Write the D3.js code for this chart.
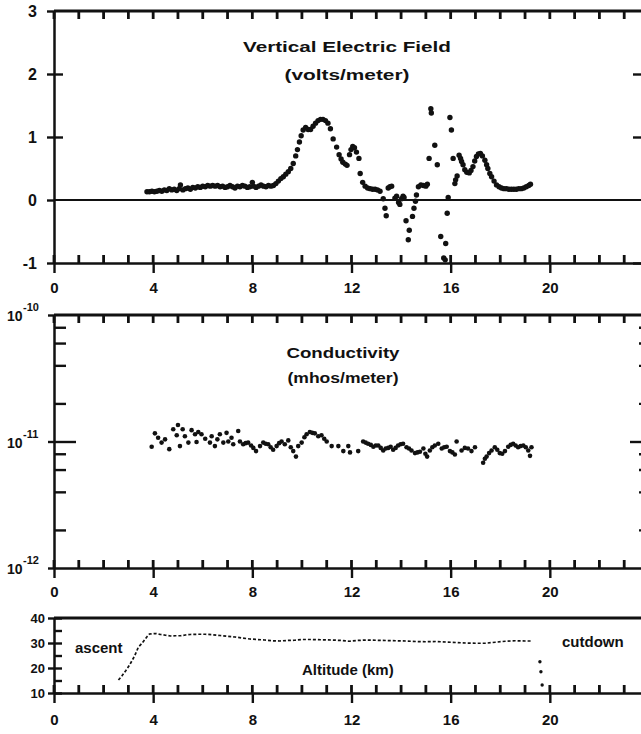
<!DOCTYPE html>
<html>
<head>
<meta charset="utf-8">
<script src="https://cdn.jsdelivr.net/npm/d3@7/dist/d3.min.js"></script>
<style>
  html, body { margin: 0; padding: 0; background: #fff; }
  svg { display: block; }
  text { font-family: "Liberation Sans", Arial, sans-serif; font-weight: bold; }
</style>
</head>
<body>
<div id="chart"></div>
<script>
// Balloon sounding: vertical E field, conductivity and altitude vs time

const xMinorTicks = d3.range(0, 25);
const xLabelsTop = [0, 4, 8, 12, 16, 20];
const xLabelsMid = [0, 4, 8, 12, 16, 20];
const xLabelsBottom = [0, 4, 8, 12, 16, 20, 24];

const fieldTicks = [-1, 0, 1, 2, 3];
const condDecades = [1e-12, 1e-11, 1e-10];
const condMinorTicks = [2e-12, 4e-12, 6e-12, 8e-12, 2e-11, 4e-11, 6e-11, 8e-11];
const altLabelTicks = [10, 20, 30, 40];
const altAllTicks = [10, 15, 20, 25, 30, 35, 40];

// [time, volts/meter]
const fieldPoints = [
  [3.75, 0.13], [3.85, 0.13], [3.95, 0.14], [4.05, 0.13], [4.15, 0.14], [4.25, 0.15], [4.35, 0.14],
  [4.45, 0.16], [4.55, 0.15], [4.65, 0.18], [4.75, 0.16], [4.85, 0.17], [4.95, 0.15], [5.05, 0.18],
  [5.1, 0.24], [5.2, 0.16], [5.3, 0.18], [5.4, 0.19], [5.5, 0.17], [5.6, 0.2], [5.7, 0.19], [5.8, 0.21],
  [5.9, 0.2], [6.0, 0.22], [6.1, 0.21], [6.2, 0.23], [6.3, 0.22], [6.4, 0.23], [6.5, 0.22], [6.6, 0.23],
  [6.7, 0.21], [6.8, 0.22], [6.9, 0.2], [7.0, 0.21], [7.1, 0.23], [7.2, 0.21], [7.3, 0.19], [7.4, 0.22],
  [7.5, 0.21], [7.6, 0.23], [7.7, 0.22], [7.8, 0.2], [7.9, 0.21], [8.0, 0.28], [8.05, 0.22], [8.15, 0.2],
  [8.25, 0.22], [8.35, 0.24], [8.45, 0.22], [8.55, 0.21], [8.65, 0.23], [8.75, 0.22], [8.85, 0.23],
  [8.95, 0.26], [9.05, 0.3], [9.15, 0.34], [9.25, 0.37], [9.35, 0.41], [9.45, 0.45], [9.55, 0.5],
  [9.65, 0.58], [9.75, 0.7], [9.82, 0.8], [9.9, 0.92], [9.97, 1.02], [10.05, 1.11], [10.15, 1.15],
  [10.25, 1.12], [10.35, 1.12], [10.45, 1.17], [10.55, 1.22], [10.65, 1.26], [10.75, 1.28], [10.85, 1.28],
  [10.95, 1.26], [11.05, 1.22], [11.15, 1.13], [11.26, 0.97], [11.4, 0.84], [11.5, 0.72], [11.58, 0.65],
  [11.65, 0.6], [11.75, 0.57], [11.82, 0.55], [11.92, 0.72], [11.98, 0.8], [12.05, 0.85], [12.12, 0.83],
  [12.2, 0.76], [12.3, 0.66], [12.35, 0.42], [12.45, 0.28], [12.55, 0.22], [12.65, 0.19], [12.75, 0.18],
  [12.85, 0.17], [12.95, 0.17], [13.05, 0.16], [13.15, 0.14], [13.28, 0.02], [13.35, -0.13], [13.4, -0.25],
  [13.48, 0.19], [13.55, 0.21], [13.62, 0.22], [13.75, 0.03], [13.82, 0.06], [13.9, -0.04], [13.95, -0.07],
  [14.02, 0.02], [14.08, 0.06], [14.12, 0.04], [14.2, -0.33], [14.29, -0.63], [14.33, -0.48], [14.46, -0.26],
  [14.52, -0.13], [14.58, -0.02], [14.62, 0.08], [14.7, 0.21], [14.8, 0.24], [14.9, 0.23], [15.0, 0.22],
  [15.06, 0.25], [15.13, 0.66], [15.2, 1.45], [15.22, 1.38], [15.36, 0.87], [15.46, 0.56], [15.6, -0.58],
  [15.72, -0.92], [15.78, -0.95], [15.8, -0.69], [15.86, -0.21], [15.9, 0.04], [15.97, 1.31], [16.03, 1.11],
  [16.1, 0.66], [16.17, 0.26], [16.2, 0.32], [16.26, 0.38], [16.34, 0.71], [16.4, 0.66], [16.44, 0.61],
  [16.5, 0.56], [16.57, 0.48], [16.65, 0.44], [16.75, 0.43], [16.82, 0.47], [16.9, 0.53], [16.97, 0.62],
  [17.04, 0.69], [17.12, 0.73], [17.2, 0.74], [17.28, 0.7], [17.38, 0.63], [17.45, 0.56], [17.5, 0.5],
  [17.58, 0.42], [17.65, 0.37], [17.75, 0.3], [17.85, 0.24], [17.95, 0.21], [18.05, 0.19], [18.15, 0.18],
  [18.25, 0.18], [18.35, 0.17], [18.45, 0.17], [18.55, 0.17], [18.65, 0.17], [18.75, 0.18], [18.85, 0.18],
  [18.95, 0.19], [19.05, 0.21], [19.15, 0.23], [19.22, 0.25]
];

// [time, mhos/meter]
const condPoints = [
  [3.94, 9.1e-12], [4.07, 1.16e-11], [4.2, 1.07e-11], [4.34, 9.8e-12], [4.48, 1.04e-11], [4.65, 8.7e-12],
  [4.81, 1.25e-11], [4.95, 1.12e-11], [5.0, 1.35e-11], [5.08, 9.2e-12], [5.19, 1.25e-11], [5.28, 1.1e-11],
  [5.42, 9.8e-12], [5.55, 1.23e-11], [5.69, 1.14e-11], [5.75, 9.9e-12], [5.82, 1.19e-11], [5.95, 1.14e-11],
  [6.1, 1.05e-11], [6.29, 9.8e-12], [6.36, 1.1e-11], [6.49, 9.2e-12], [6.59, 1.04e-11], [6.69, 1.14e-11],
  [6.83, 9.8e-12], [6.96, 1.17e-11], [7.03, 1.0e-11], [7.16, 1.07e-11], [7.23, 9.5e-12], [7.43, 1.21e-11],
  [7.5, 1.0e-11], [7.63, 9.5e-12], [7.73, 9.7e-12], [7.83, 9.8e-12], [7.95, 9.3e-12], [8.04, 8.9e-12],
  [8.15, 8.4e-12], [8.31, 9.2e-12], [8.44, 9.8e-12], [8.54, 9.6e-12], [8.64, 9.5e-12], [8.74, 9.0e-12],
  [8.84, 8.6e-12], [8.98, 9.2e-12], [9.08, 9.7e-12], [9.18, 1.0e-11], [9.31, 9.5e-12], [9.45, 1.02e-11],
  [9.55, 9.0e-12], [9.65, 8.4e-12], [9.76, 7.6e-12], [9.85, 9.2e-12], [9.99, 9.8e-12], [10.1, 1.08e-11],
  [10.19, 1.14e-11], [10.32, 1.19e-11], [10.42, 1.17e-11], [10.52, 1.16e-11], [10.66, 1.1e-11],
  [10.79, 1.12e-11], [10.9, 1.05e-11], [11.0, 1.0e-11], [11.2, 9.2e-12], [11.47, 9.2e-12], [11.67, 8.4e-12],
  [11.87, 9.2e-12], [11.94, 8.2e-12], [12.27, 8.4e-12], [12.47, 1.0e-11], [12.57, 9.8e-12], [12.67, 9.6e-12],
  [12.78, 9.4e-12], [12.88, 9.1e-12], [12.98, 9.3e-12], [13.08, 9.3e-12], [13.18, 8.9e-12], [13.28, 8.5e-12],
  [13.38, 8.8e-12], [13.48, 8.9e-12], [13.58, 9.1e-12], [13.68, 8.6e-12], [13.78, 8.9e-12], [13.88, 9.3e-12],
  [13.98, 9.5e-12], [14.08, 9.6e-12], [14.22, 9.0e-12], [14.32, 8.8e-12], [14.42, 8.5e-12], [14.56, 8.1e-12],
  [14.66, 8.2e-12], [14.76, 8.3e-12], [14.9, 8.8e-12], [14.98, 8.0e-12], [15.05, 7.6e-12], [15.16, 8.5e-12],
  [15.26, 9.0e-12], [15.36, 9.3e-12], [15.5, 9.6e-12], [15.64, 8.8e-12], [15.74, 9.0e-12], [15.84, 9.1e-12],
  [15.97, 8.4e-12], [16.07, 8.2e-12], [16.17, 7.9e-12], [16.24, 1.0e-11], [16.44, 8.5e-12], [16.57, 8.9e-12],
  [16.7, 8.8e-12], [16.84, 8.4e-12], [16.98, 9.0e-12], [17.31, 6.8e-12], [17.38, 7.3e-12], [17.45, 7.6e-12],
  [17.55, 8.1e-12], [17.65, 8.5e-12], [17.78, 9.0e-12], [17.88, 8.6e-12], [17.98, 8.1e-12], [18.08, 8.0e-12],
  [18.19, 8.4e-12], [18.32, 9.1e-12], [18.42, 9.4e-12], [18.52, 9.6e-12], [18.62, 9.3e-12], [18.72, 9.0e-12],
  [18.82, 9.2e-12], [18.93, 9.3e-12], [19.03, 9.0e-12], [19.13, 8.5e-12], [19.2, 7.7e-12], [19.26, 9.0e-12]
];

// [time, altitude km] ascent + float
const altPoints = [
  [2.6, 15.2], [2.75, 17], [2.9, 19], [3.05, 21.2], [3.2, 23.9], [3.3, 25.9], [3.4, 28.3], [3.55, 29.9],
  [3.65, 31.2], [3.75, 32.5], [3.85, 33.6], [4.1, 33.8], [4.3, 33.4], [4.5, 33.1], [4.7, 32.8], [4.9, 32.9],
  [5.1, 32.9], [5.3, 33.2], [5.5, 33.4], [5.8, 33.5], [6.1, 33.5], [6.4, 33.3], [6.7, 33.0], [7.0, 32.7],
  [7.3, 32.4], [7.6, 32.0], [7.9, 31.6], [8.2, 31.4], [8.5, 31.2], [8.8, 30.9], [9.1, 30.8], [9.4, 31.0],
  [9.7, 31.1], [10.0, 31.4], [10.4, 31.4], [10.8, 31.3], [11.2, 31.2], [11.6, 31.0], [11.9, 30.7],
  [12.2, 31.0], [12.6, 31.2], [13.0, 31.1], [13.4, 31.0], [13.8, 30.9], [14.2, 30.8], [14.6, 30.6],
  [15.0, 30.5], [15.4, 30.6], [15.8, 30.4], [16.2, 30.2], [16.6, 30.0], [17.0, 29.9], [17.4, 29.9],
  [17.8, 30.3], [18.2, 30.7], [18.6, 30.9], [19.0, 30.8], [19.3, 30.8]
];
// after cutdown
const cutdownPoints = [[19.6, 22.5], [19.64, 18.5], [19.69, 13.2]];

// ---- chart ----
const width = 641;
const height = 734;
const ink = "#111";

const svg = d3
  .select("#chart")
  .append("svg")
  .attr("width", width)
  .attr("height", height);

svg.append("rect").attr("width", width).attr("height", height).attr("fill", "#fff");

const x = d3.scaleLinear().domain([0, 24]).range([54, 649]);
const yField = d3.scaleLinear().domain([-1, 3]).range([263, 11]);
const yCond = d3.scaleLog().domain([1e-12, 1e-10]).range([568, 315]);
const yAlt = d3.scaleLinear().domain([10, 40]).range([693, 618]);

function inkAxis(g, fontSize) {
  g.select(".domain").attr("stroke", ink).attr("stroke-width", 2.5);
  g.selectAll(".tick line").attr("stroke", ink).attr("stroke-width", 2.4);
  g.selectAll(".tick text")
    .attr("fill", ink)
    .style("font-size", fontSize + "px")
    .style("font-family", '"Liberation Sans", Arial, sans-serif')
    .style("font-weight", "bold");
}

// layers: frame and ticks go in their own group, appended last so nothing covers them
const marks = svg.append("g").attr("class", "marks");
const frame = svg.append("g").attr("class", "frame");

// short vertical tick marks at each minor time value, from yPos going by len
function timeTicks(yPos, len) {
  frame.append("g")
    .selectAll("line")
    .data(xMinorTicks)
    .join("line")
    .attr("x1", (d) => x(d))
    .attr("x2", (d) => x(d))
    .attr("y1", yPos)
    .attr("y2", yPos + len)
    .attr("stroke", ink)
    .attr("stroke-width", 2.8);
}

// bottom time axis: minor ticks point up, majors cross and carry labels
function timeAxis(yPos, labels, pad) {
  timeTicks(yPos, -8);
  frame.append("g")
    .attr("transform", `translate(0,${yPos})`)
    .call(d3.axisBottom(x).tickValues(labels).tickSize(10).tickSizeOuter(0).tickPadding(pad).tickFormat((d) => String(d)))
    .call((g) => inkAxis(g, 15));
}

function topAxis(yPos, withTicks) {
  frame.append("line")
    .attr("x1", x(0))
    .attr("x2", x(24))
    .attr("y1", yPos)
    .attr("y2", yPos)
    .attr("stroke", ink)
    .attr("stroke-width", 2.8);
  if (withTicks) timeTicks(yPos, 8);
}

function title(lines, cx, baselines, lengths) {
  lines.forEach((t, i) => {
    frame.append("text")
      .attr("x", cx)
      .attr("y", baselines[i])
      .attr("text-anchor", "middle")
      .attr("textLength", lengths[i])
      .attr("lengthAdjust", "spacingAndGlyphs")
      .style("font-size", "14px")
      .attr("fill", ink)
      .text(t);
  });
}

// ---------- panel 1: vertical electric field ----------
topAxis(yField(3), true);

frame.append("g")
  .attr("transform", `translate(${x(0)},0)`)
  .call(d3.axisLeft(yField).tickValues(fieldTicks).tickSize(7).tickSizeOuter(0).tickPadding(10).tickFormat((d) => String(d)))
  .call((g) => inkAxis(g, 16));

frame.append("g")
  .attr("transform", `translate(${x(0)},0)`)
  .call(d3.axisLeft(yField).tickValues([1, 2]).tickSize(-9).tickSizeOuter(0).tickFormat(""))
  .call((g) => inkAxis(g, 16))
  .call((g) => g.select(".domain").remove());

frame.append("g")
  .attr("transform", `translate(${x(24)},0)`)
  .call(d3.axisRight(yField).tickValues([-1, 1, 2]).tickSize(-16).tickSizeOuter(0).tickFormat(""))
  .call((g) => inkAxis(g, 16));

timeAxis(yField(-1), xLabelsTop, 9);

frame.append("line")
  .attr("x1", x(0))
  .attr("x2", width)
  .attr("y1", yField(0))
  .attr("y2", yField(0))
  .attr("stroke", ink)
  .attr("stroke-width", 2);

marks.append("g")
  .selectAll("circle")
  .data(fieldPoints)
  .join("circle")
  .attr("cx", (d) => x(d[0]))
  .attr("cy", (d) => yField(d[1]))
  .attr("r", 2.7)
  .attr("fill", ink);

title(["Vertical Electric Field", "(volts/meter)"], 347, [52, 80], [208, 125]);

// ---------- panel 2: conductivity ----------
topAxis(yCond(1e-10), true);

frame.append("g")
  .attr("transform", `translate(${x(0)},0)`)
  .call(d3.axisLeft(yCond).tickValues(condDecades).tickSize(6).tickSizeOuter(0).tickFormat(""))
  .call((g) => inkAxis(g, 14));

frame.append("g")
  .attr("transform", `translate(${x(0)},0)`)
  .call(d3.axisLeft(yCond).tickValues(condMinorTicks).tickSize(-12).tickSizeOuter(0).tickFormat(""))
  .call((g) => inkAxis(g, 14))
  .call((g) => g.select(".domain").remove());

frame.append("g")
  .attr("transform", `translate(${x(0)},0)`)
  .call(d3.axisLeft(yCond).tickValues([1e-11]).tickSize(-22).tickSizeOuter(0).tickFormat(""))
  .call((g) => inkAxis(g, 14))
  .call((g) => g.select(".domain").remove());

frame.append("g")
  .attr("transform", `translate(${x(24)},0)`)
  .call(d3.axisRight(yCond).tickValues(condMinorTicks).tickSize(-10).tickSizeOuter(0).tickFormat(""))
  .call((g) => inkAxis(g, 14));

frame.append("g")
  .attr("transform", `translate(${x(24)},0)`)
  .call(d3.axisRight(yCond).tickValues([1e-11]).tickSize(-19).tickSizeOuter(0).tickFormat(""))
  .call((g) => inkAxis(g, 14))
  .call((g) => g.select(".domain").remove());

// 10^n labels
const decadeLabels = frame.append("g").attr("fill", ink);
condDecades.forEach((v) => {
  const yy = yCond(v);
  decadeLabels.append("text")
    .attr("x", 7)
    .attr("y", yy + 6)
    .style("font-size", "14px")
    .text("10");
  decadeLabels.append("text")
    .attr("x", 23)
    .attr("y", yy - 4)
    .style("font-size", "11px")
    .text("-" + Math.round(-Math.log10(v)));
});

timeAxis(yCond(1e-12), xLabelsMid, 8);

marks.append("g")
  .selectAll("circle")
  .data(condPoints)
  .join("circle")
  .attr("cx", (d) => x(d[0]))
  .attr("cy", (d) => yCond(d[1]))
  .attr("r", 2.3)
  .attr("fill", ink);

title(["Conductivity", "(mhos/meter)"], 343, [358, 383], [113, 111]);

// ---------- panel 3: altitude ----------
topAxis(yAlt(40), false);

frame.append("g")
  .attr("transform", `translate(${x(0)},0)`)
  .call(d3.axisLeft(yAlt).tickValues(altLabelTicks).tickSize(6).tickSizeOuter(0).tickPadding(3).tickFormat((d) => String(d)))
  .call((g) => inkAxis(g, 13));

frame.append("g")
  .attr("transform", `translate(${x(0)},0)`)
  .call(d3.axisLeft(yAlt).tickValues(altAllTicks).tickSize(-8).tickSizeOuter(0).tickFormat(""))
  .call((g) => inkAxis(g, 13))
  .call((g) => g.select(".domain").remove());

timeAxis(yAlt(10), xLabelsBottom, 11);

const altLine = d3
  .line()
  .x((d) => x(d[0]))
  .y((d) => yAlt(d[1]));

marks.append("path")
  .attr("d", altLine(altPoints))
  .attr("fill", "none")
  .attr("stroke", ink)
  .attr("stroke-width", 1.7)
  .attr("stroke-dasharray", "3,2");

marks.append("g")
  .selectAll("circle")
  .data(cutdownPoints)
  .join("circle")
  .attr("cx", (d) => x(d[0]))
  .attr("cy", (d) => yAlt(d[1]))
  .attr("r", 1.7)
  .attr("fill", ink);

const notes = frame.append("g").attr("fill", ink).style("font-size", "15px");
notes.append("text").attr("x", 75).attr("y", 653).text("ascent");
notes.append("text").attr("x", 562).attr("y", 647).text("cutdown");
notes.append("text").attr("x", 302).attr("y", 675).text("Altitude (km)");
</script>
</body>
</html>
